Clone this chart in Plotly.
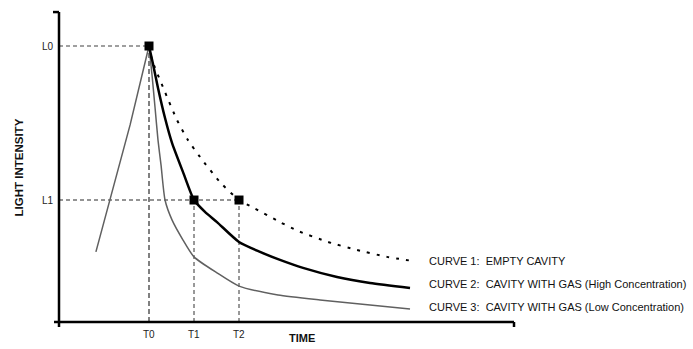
import plotly.graph_objects as go

# ---- data (time units, intensity normalised to L0 = 1) ----
T_vals = [2.0, 3.0, 4.0]
T_labels = ["T0", "T1", "T2"]
L_vals = [1.0, 0.442]
L_labels = ["L0", "L1"]

curve_names = [
    "CURVE 1:  EMPTY CAVITY",
    "CURVE 2:  CAVITY WITH GAS (High Concentration)",
    "CURVE 3:  CAVITY WITH GAS (Low Concentration)",
]

# rising edge (shared by all curves)
rise_x = [0.82, 1.13, 1.58, 2.0]
rise_y = [0.254, 0.442, 0.714, 1.0]

c1_x = [2.0, 2.067, 2.356, 2.622, 2.867, 3.133, 3.578, 4.0, 4.289, 4.911, 5.311, 5.978, 6.622, 7.289, 7.867]
c1_y = [1.0, 0.950, 0.833, 0.732, 0.659, 0.598, 0.507, 0.442, 0.417, 0.362, 0.330, 0.290, 0.261, 0.236, 0.221]

c2_x = [2.0, 2.089, 2.2, 2.356, 2.511, 2.756, 3.0, 3.244, 3.511, 4.0, 4.467, 4.911, 5.422, 6.178, 6.911, 7.8]
c2_y = [1.0, 0.935, 0.848, 0.739, 0.649, 0.543, 0.442, 0.399, 0.362, 0.290, 0.254, 0.225, 0.196, 0.163, 0.141, 0.123]

c3_x = [2.0, 2.067, 2.133, 2.2, 2.267, 2.356, 2.511, 2.756, 3.0, 3.511, 4.0, 4.867, 5.8, 6.911, 7.8]
c3_y = [1.0, 0.895, 0.779, 0.659, 0.569, 0.442, 0.370, 0.297, 0.236, 0.178, 0.130, 0.098, 0.080, 0.062, 0.047]

FONT = "Liberation Sans, Arial, sans-serif"

fig = go.Figure()

# guide lines
guide_gray = "#808080"
fig.add_trace(go.Scatter(x=[0, T_vals[0]], y=[L_vals[0], L_vals[0]], mode="lines",
                         line=dict(color=guide_gray, width=1.5, dash="4px,3px"), hoverinfo="skip"))
fig.add_trace(go.Scatter(x=[0, T_vals[2]], y=[L_vals[1], L_vals[1]], mode="lines",
                         line=dict(color="#707070", width=1.5, dash="4px,3px"), hoverinfo="skip"))
fig.add_trace(go.Scatter(x=[T_vals[0], T_vals[0]], y=[0, L_vals[0]], mode="lines",
                         line=dict(color=guide_gray, width=2, dash="5px,3px"), hoverinfo="skip"))
for t in T_vals[1:]:
    fig.add_trace(go.Scatter(x=[t, t], y=[0, L_vals[1]], mode="lines",
                             line=dict(color="#333333", width=1, dash="4px,3px"), hoverinfo="skip"))

# curves
fig.add_trace(go.Scatter(x=rise_x, y=rise_y, mode="lines",
                         line=dict(color="#606060", width=1.5), hoverinfo="skip"))
fig.add_trace(go.Scatter(x=c3_x, y=c3_y, mode="lines", line_shape="spline", line_smoothing=0.6,
                         line=dict(color="#606060", width=1.5), hoverinfo="skip"))
fig.add_trace(go.Scatter(x=c2_x, y=c2_y, mode="lines", line_shape="spline", line_smoothing=0.6,
                         line=dict(color="black", width=2.5), hoverinfo="skip"))
fig.add_trace(go.Scatter(x=c1_x, y=c1_y, mode="lines", line_shape="spline", line_smoothing=0.6,
                         line=dict(color="black", width=2, dash="3px,7px"), hoverinfo="skip"))

# markers
fig.add_trace(go.Scatter(x=[T_vals[0], T_vals[1], T_vals[2]], y=[L_vals[0], L_vals[1], L_vals[1]],
                         mode="markers", marker=dict(symbol="square", size=9, color="black"),
                         hoverinfo="skip"))

# axes drawn as lines
x0, x1 = -0.111, 10.111
ytop, ybot = 1.123, -0.018
shapes = [
    dict(type="line", x0=0, x1=0, y0=ybot, y1=ytop, line=dict(color="black", width=2.5)),
    dict(type="line", x0=-0.133, x1=0, y0=ytop, y1=ytop, line=dict(color="black", width=2.5)),
    dict(type="line", x0=x0, x1=x1, y0=0, y1=0, line=dict(color="black", width=2.5)),
    dict(type="line", x0=x1, x1=x1, y0=0, y1=ybot, line=dict(color="black", width=2.5)),
]

annotations = []
for t, lab in zip(T_vals, T_labels):
    annotations.append(dict(x=t, y=0, yshift=-12, text=lab, showarrow=False, xanchor="center",
                            yanchor="middle", font=dict(family=FONT, size=10, color="#222")))
for l, lab in zip(L_vals, L_labels):
    annotations.append(dict(x=0, y=l, xshift=-3, text=lab, showarrow=False, xanchor="right",
                            yanchor="middle", font=dict(family=FONT, size=10, color="#222")))
legend_y = [0.221, 0.138, 0.053]
for name, ly in zip(curve_names, legend_y):
    annotations.append(dict(x=8.18, y=ly, text=name, showarrow=False, xanchor="left", yanchor="middle",
                            font=dict(family=FONT, size=11, color="#111")))
annotations.append(dict(x=5.4, y=0, yshift=-16, text="<b>TIME</b>", showarrow=False, xanchor="center",
                        yanchor="middle", font=dict(family=FONT, size=11, color="#111")))
annotations.append(dict(x=0, xshift=-40, y=0.56, text="<b>LIGHT INTENSITY</b>", showarrow=False,
                        textangle=-90, xanchor="center", yanchor="middle",
                        font=dict(family=FONT, size=11.5, color="#111")))

fig.update_layout(
    width=693, height=349,
    margin=dict(l=50, r=173, t=8, b=17),
    paper_bgcolor="white", plot_bgcolor="white",
    showlegend=False,
    xaxis=dict(range=[-0.2, 10.244], visible=False),
    yaxis=dict(range=[-0.0362, 1.1377], visible=False),
    shapes=shapes,
    annotations=annotations,
)

fig.write_html("out.html")
